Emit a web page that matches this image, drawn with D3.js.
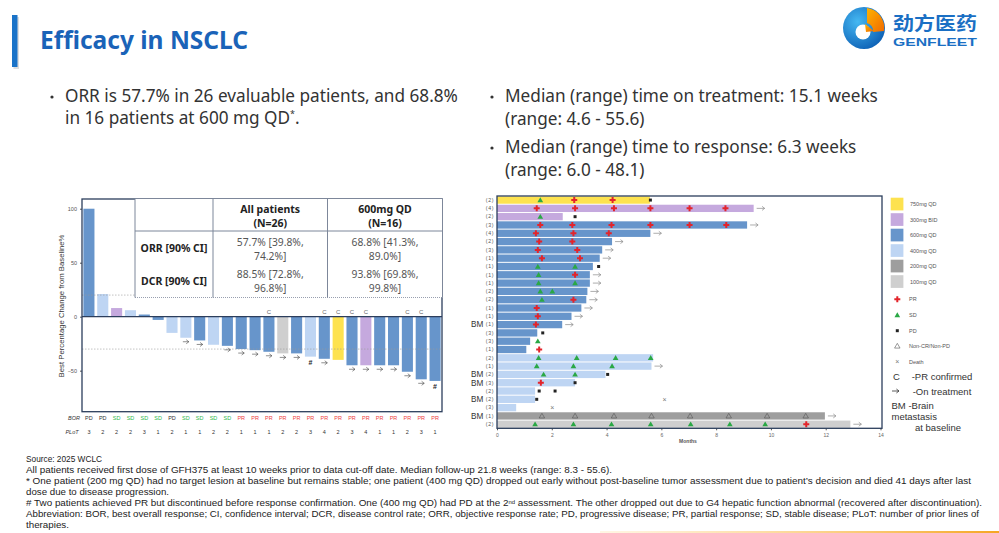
<!DOCTYPE html>
<html><head><meta charset="utf-8">
<script src="https://cdn.jsdelivr.net/npm/d3@7"></script>
<style>body{margin:0;background:#fff;} svg{display:block;}</style>
</head><body><svg id="c" width="999" height="533"></svg>
<script>
// ---------------- DATA ----------------
const doseKeys   = ["750mg QD","300mg BID","600mg QD","400mg QD","200mg QD","100mg QD"];
const doseColors = ["#fde24f","#c5a9de","#6795cb","#bed5f3","#9e9e9e","#cfcfcf"];

// Waterfall (best % change from baseline), one entry per evaluable patient
const wfValues = [100, 21, 8, 6, 2, -3, -15, -19.5, -22, -26, -27, -30, -31, -32.5, -34, -34, -37, -39, -40, -45, -45, -45, -45, -51, -58, -59.5];
const wfDose   = ["600mg QD","400mg QD","300mg BID","400mg QD","600mg QD","600mg QD","400mg QD","400mg QD","600mg QD","400mg QD","600mg QD","600mg QD","600mg QD","600mg QD","100mg QD","600mg QD","400mg QD","600mg QD","750mg QD","600mg QD","300mg BID","600mg QD","600mg QD","600mg QD","600mg QD","600mg QD"];
const wfBOR    = ["PD","PD","SD","SD","SD","SD","PD","SD","SD","SD","SD","PR","PR","PR","PR","PR","PR","PR","PR","PR","PR","PR","PR","PR","PR","PR"];
const wfPLoT   = [3,2,2,2,3,1,2,1,1,2,2,1,1,1,2,2,3,4,2,3,4,1,1,2,3,1];
const wfConfirmed   = [0,0,0,0,0,0,0,0,0,0,0,0,0,1,0,0,0,1,1,1,1,0,0,1,1,0];
const wfOnTreatment = [0,0,0,0,0,0,0,1,1,0,1,1,1,1,1,1,0,1,0,1,1,1,1,1,1,0];
const wfUnconfirmed = [0,0,0,0,0,0,0,0,0,0,0,0,0,0,0,0,1,0,0,0,0,0,0,0,0,1];
const wfTicks = [100, 50, 0, -50];
const wfRefLines = [20, -30];

// Table
const tblCols = ["All patients\n(N=26)", "600mg QD\n(N=16)"];
const tblRows = ["ORR [90% CI]", "DCR [90% CI]"];
const tblCells = [["57.7% [39.8%,\n74.2%]", "68.8% [41.3%,\n89.0%]"],
                  ["88.5% [72.8%,\n96.8%]", "93.8% [69.8%,\n99.8%]"]];

// Swimmer plot (months on treatment)
const swLines = ["(2)","(4)","(2)","(3)","(4)","(2)","(3)","(1)","(1)","(1)","(1)","(2)","(2)","(1)","(1)","(1)","(3)","(3)","(1)","(2)","(1)","(2)","(3)","(2)","(2)","(3)","(1)","(2)"];
const swBM     = [0,0,0,0,0,0,0,0,0,0,0,0,0,0,0,1,0,0,0,0,0,1,1,0,1,0,1,0];
const swDose   = ["750mg QD","300mg BID","300mg BID","600mg QD","600mg QD","600mg QD","600mg QD","600mg QD","600mg QD","600mg QD","600mg QD","600mg QD","600mg QD","600mg QD","600mg QD","600mg QD","600mg QD","600mg QD","600mg QD","400mg QD","400mg QD","400mg QD","400mg QD","400mg QD","400mg QD","400mg QD","200mg QD","100mg QD"];
const swEnd    = [5.58, 9.37, 2.4, 9.13, 5.6, 4.2, 3.84, 3.75, 3.5, 3.39, 3.39, 3.3, 3.26, 3.08, 2.72, 2.38, 1.47, 1.21, 1.07, 5.7, 5.64, 3.96, 2.85, 1.39, 1.39, 0.7, 11.97, 12.9];
const swOngoing= [0,1,0,1,1,1,1,1,0,1,1,1,1,1,1,1,0,0,0,0,1,0,0,0,0,0,1,1];
const prMarks = [[0,2.82],[0,4.22],[1,1.45],[1,2.85],[1,4.27],[1,5.6],[1,7.03],[1,8.34],[3,1.58],[3,2.75],[3,4.18],[3,5.6],[3,7.03],[3,8.37],[4,1.42],[4,2.79],[4,4.08],[5,1.54],[5,2.75],[6,1.49],[6,2.93],[7,1.64],[7,3.03],[9,2.85],[12,2.79],[13,1.45],[14,1.49],[15,1.42],[18,1.54],[22,1.6],[27,11.29]];
const sdMarks = [[0,1.58],[2,1.58],[8,1.49],[8,2.85],[9,1.52],[10,1.52],[10,2.85],[11,1.58],[11,2.02],[12,1.64],[17,1.49],[19,1.52],[19,2.91],[19,4.33],[19,5.61],[20,1.45],[20,2.79],[20,4.2],[21,1.7],[21,2.85],[27,1.39],[27,2.79],[27,4.18],[27,5.61],[27,7.07],[27,8.5],[27,9.79]];
const pdMarks = [[0,5.6],[2,2.85],[8,3.71],[16,1.67],[21,4.04],[22,2.85],[23,1.54],[23,2.12],[24,1.45]];
const ncMarks = [[26,1.64],[26,2.85],[26,4.27],[26,5.64],[26,7.05],[26,8.46],[26,9.86],[26,11.27]];
const deathMarks = [[24,6.12],[25,2.02]];
const swTicks = [0,2,4,6,8,10,12,14];

// ---------------- DRAW ----------------
const svg = d3.select("#c");
const FONT = "'Noto Sans', 'Open Sans', sans-serif";
const CH = "'Liberation Sans', Arial, sans-serif";
const color = d3.scaleOrdinal(doseKeys, doseColors);
function fit(sel, target){ const w = sel.node().getComputedTextLength(); const fs = parseFloat(sel.attr("font-size")); const n = fs*target/w; sel.attr("font-size", n); return n; }
function arrowPath(g, x, y, len, stroke, sw){
  g.append("path").attr("d",`M${x},${y} H${x+len} M${x+len-2.6},${y-2} L${x+len},${y} L${x+len-2.6},${y+2}`)
   .attr("fill","none").attr("stroke",stroke).attr("stroke-width",sw);
}

// header
svg.append("rect").attr("x",13.5).attr("y",17).attr("width",5.5).attr("height",52).attr("fill","#c8c8c8").attr("opacity",0.6);
svg.append("rect").attr("x",12).attr("y",15).attr("width",5.5).attr("height",52).attr("fill","#1a73c8");
const title = svg.append("text").attr("x",40).attr("y",49).attr("font-family",FONT).attr("font-weight","bold").attr("font-size",26).attr("fill","#1a63b8").text("Efficacy in NSCLC");
fit(title, 208);

// logo
const defs = svg.append("defs");
const rg = defs.append("radialGradient").attr("id","lg").attr("cx","35%").attr("cy","35%").attr("r","75%");
rg.append("stop").attr("offset","0%").attr("stop-color","#45b8f2");
rg.append("stop").attr("offset","100%").attr("stop-color","#0b5db3");
const og = defs.append("linearGradient").attr("id","og").attr("x1","0").attr("y1","0").attr("x2","1").attr("y2","1");
og.append("stop").attr("offset","0%").attr("stop-color","#ffb300");
og.append("stop").attr("offset","100%").attr("stop-color","#f06a00");
const logo = svg.append("g").attr("transform","translate(864,28)");
logo.append("circle").attr("r",21).attr("fill","url(#lg)");
logo.append("path").attr("d","M3,-20 A20,20 0 0 1 20,3 L9,4 A8,8 0 0 0 3,-5 Z").attr("fill","url(#og)");
logo.append("circle").attr("cx",-1).attr("cy",4).attr("r",7.5).attr("fill","#fff");
logo.append("path").attr("d","M1,-4 L10,3 L2,4 Z").attr("fill","url(#og)");
svg.append("text").attr("x",893).attr("y",30).attr("font-family","'Noto Sans CJK SC'").attr("font-weight","bold").attr("font-size",18)
  .attr("fill","#1a6fc4").attr("textLength",84).attr("lengthAdjust","spacingAndGlyphs").text("劲方医药");
svg.append("text").attr("x",893).attr("y",45.5).attr("font-family",CH).attr("font-weight","bold").attr("font-size",10)
  .attr("fill","#1a6fc4").attr("textLength",84).attr("lengthAdjust","spacingAndGlyphs").text("GENFLEET");

// bullets
const bulletFs = 17;
function bulletLine(x, y, parts){
  const t = svg.append("text").attr("x",x).attr("y",y).attr("font-family",FONT).attr("font-size",bulletFs).attr("fill","#333");
  parts.forEach(p=>{ const s=t.append("tspan").text(p.t); if(p.sup){s.attr("font-size",9).attr("dy",-7);} if(p.down){s.attr("dy",7);} });
  return t;
}
svg.append("circle").attr("cx",52).attr("cy",97).attr("r",1.6).attr("fill","#333");
const l1 = bulletLine(65,102,[{t:"ORR is 57.7% in 26 evaluable patients, and 68.8%"}]);
const bfs = fit(l1, 393);
bulletLine(65,124,[{t:"in 16 patients at 600 mg QD"},{t:"*",sup:true},{t:".",down:true}]).attr("font-size",bfs);
svg.append("circle").attr("cx",492).attr("cy",97).attr("r",1.6).attr("fill","#333");
const r1 = bulletLine(505,102,[{t:"Median (range) time on treatment: 15.1 weeks"}]).attr("font-size",bfs);
fit(r1, 373);
bulletLine(505,125,[{t:"(range: 4.6 - 55.6)"}]).attr("font-size",bfs);
svg.append("circle").attr("cx",492).attr("cy",148).attr("r",1.6).attr("fill","#333");
bulletLine(505,153,[{t:"Median (range) time to response: 6.3 weeks"}]).attr("font-size",bfs);
bulletLine(505,176,[{t:"(range: 6.0 - 48.1)"}]).attr("font-size",bfs);

// ---------------- Waterfall ----------------
const wf = svg.append("g");
const wfX = d3.scaleBand().domain(d3.range(wfValues.length)).range([82,442]).paddingInner(0.2).paddingOuter(0.1);
const wfY = d3.scaleLinear().domain([-88,109]).range([411.7,199]);
wf.selectAll("rect.bar").data(wfValues).join("rect").attr("class","bar")
  .attr("x",(d,i)=>wfX(i)).attr("width",wfX.bandwidth())
  .attr("y",d=>wfY(Math.max(0,d))).attr("height",d=>Math.abs(wfY(d)-wfY(0)))
  .attr("fill",(d,i)=>color(wfDose[i]));
wf.selectAll("line.ref").data(wfRefLines).join("line").attr("class","ref")
  .attr("x1",82).attr("x2",442).attr("y1",d=>wfY(d)).attr("y2",d=>wfY(d))
  .attr("stroke","#9a9a9a").attr("stroke-width",0.6).attr("stroke-dasharray","1.5,1.5");
wf.append("line").attr("x1",82).attr("x2",442).attr("y1",wfY(0)).attr("y2",wfY(0)).attr("stroke","#2c3e5c").attr("stroke-width",1.2);
// markers
const cx = i => wfX(i)+wfX.bandwidth()/2;
wfValues.forEach((v,i)=>{ if(wfOnTreatment[i]) arrowPath(wf, cx(i)-3, wfY(Math.min(0,v))+4, 6, "#444", 0.6); });
wf.selectAll("text.hash").data(wfValues.map((v,i)=>({v,i})).filter(d=>wfUnconfirmed[d.i])).join("text")
  .attr("x",d=>cx(d.i)).attr("y",d=>wfY(Math.min(0,d.v))+8).attr("text-anchor","middle")
  .attr("font-family",CH).attr("font-weight","bold").attr("font-size",7).attr("fill","#222").text("#");
wf.selectAll("text.conf").data(wfValues.map((v,i)=>i).filter(i=>wfConfirmed[i])).join("text")
  .attr("x",d=>cx(d)).attr("y",313.5).attr("text-anchor","middle")
  .attr("font-family",CH).attr("font-size",6).attr("fill","#666").text("C");
// axis
const yAx = wf.append("g").attr("transform","translate(82,0)").call(d3.axisLeft(wfY).tickValues(wfTicks).tickSize(2));
yAx.select(".domain").remove();
yAx.selectAll("text").attr("font-family",CH).attr("font-size",5.5).attr("fill","#555");
yAx.selectAll("line").attr("stroke","#555");
const yt = wf.append("text").attr("transform","translate(64,306) rotate(-90)").attr("text-anchor","middle")
  .attr("font-family",CH).attr("font-size",7.5).attr("fill","#333").text("Best Percentage Change from Baseline%");
fit(yt, 143);
// BOR / PLoT rows
const borColor = {PD:"#333", SD:"#2db84b", PR:"#ee4040"};
wf.append("text").attr("x",74).attr("y",420).attr("text-anchor","middle").attr("font-family",CH).attr("font-style","italic").attr("font-size",5.5).attr("fill","#333").text("BOR");
wf.append("text").attr("x",72).attr("y",434).attr("text-anchor","middle").attr("font-family",CH).attr("font-style","italic").attr("font-size",5.5).attr("fill","#333").text("PLoT");
wf.selectAll("text.bor").data(wfBOR).join("text").attr("class","bor").attr("x",(d,i)=>cx(i)).attr("y",420)
  .attr("text-anchor","middle").attr("font-family",CH).attr("font-size",5.5).attr("fill",d=>borColor[d]).text(d=>d);
wf.selectAll("text.plot").data(wfPLoT).join("text").attr("class","plot").attr("x",(d,i)=>cx(i)).attr("y",434)
  .attr("text-anchor","middle").attr("font-family",CH).attr("font-size",5.5).attr("fill","#333").text(d=>d);
// frame
wf.append("rect").attr("x",82).attr("y",199).attr("width",360).attr("height",212.7).attr("fill","none").attr("stroke","#2c3e5c").attr("stroke-width",1.3);

// ---------------- Table ----------------
const tb = svg.append("g");
const tX = [135, 213, 327.5, 442.5], tY = [198.5, 231, 264, 297.5];
tb.append("rect").attr("x",tX[0]).attr("y",tY[0]).attr("width",tX[3]-tX[0]).attr("height",tY[3]-tY[0]).attr("fill","#fff");
const tStroke = "#7d879a";
tb.append("line").attr("x1",tX[0]).attr("x2",tX[3]).attr("y1",tY[0]).attr("y2",tY[0]).attr("stroke",tStroke).attr("stroke-width",1);
tb.append("line").attr("x1",tX[0]).attr("x2",tX[3]).attr("y1",tY[1]).attr("y2",tY[1]).attr("stroke",tStroke).attr("stroke-width",1);
tb.append("line").attr("x1",tX[0]).attr("x2",tX[3]).attr("y1",tY[3]).attr("y2",tY[3]).attr("stroke",tStroke).attr("stroke-width",0.8).attr("stroke-dasharray","1,1");
tX.forEach(x=>tb.append("line").attr("x1",x).attr("x2",x).attr("y1",tY[0]).attr("y2",tY[3]).attr("stroke",tStroke).attr("stroke-width",1));
function multi(x, y, str, opts){
  const lines = str.split("\n");
  lines.forEach((s,k)=>tb.append("text").attr("x",x).attr("y",y+k*14).attr("text-anchor","middle").attr("font-family",FONT)
     .attr("font-size",opts.fs).attr("font-weight",opts.bold?"bold":"normal").attr("fill",opts.fill).text(s));
}
tblCols.forEach((c,j)=>multi((tX[j+1]+tX[j+2])/2, 212.5, c, {fs:10.5,bold:true,fill:"#222"}));
tblRows.forEach((r,i)=>multi((tX[0]+tX[1])/2, [251.5,285][i], r, {fs:10.5,bold:true,fill:"#222"}));
tblCells.forEach((row,i)=>row.forEach((c,j)=>multi((tX[j+1]+tX[j+2])/2, [245.5,277.5][i], c, {fs:10.3,bold:false,fill:"#555"})));

// ---------------- Swimmer ----------------
const sw = svg.append("g");
const sX = d3.scaleLinear().domain([0,14]).range([497,880.5]);
const sY = d3.scaleBand().domain(d3.range(swEnd.length)).range([196,428.3]).paddingInner(0.12).paddingOuter(0.05);
const rc = i => sY(i)+sY.bandwidth()/2;
sw.selectAll("rect.sb").data(swEnd).join("rect").attr("class","sb")
  .attr("x",sX(0)).attr("y",(d,i)=>sY(i)).attr("width",d=>sX(d)-sX(0)).attr("height",sY.bandwidth())
  .attr("fill",(d,i)=>color(swDose[i]));
swEnd.forEach((v,i)=>{ if(swOngoing[i]) arrowPath(sw, sX(v)+3, rc(i), 8, "#8a8a8a", 0.7); });
const sym = (type,size)=>d3.symbol().type(type).size(size)();
sw.selectAll("path.pr").data(prMarks).join("path").attr("transform",d=>`translate(${sX(d[1])},${rc(d[0])})`).attr("d",sym(d3.symbolCross,20)).attr("fill","#e3242b");
sw.selectAll("path.sd").data(sdMarks).join("path").attr("transform",d=>`translate(${sX(d[1])},${rc(d[0])+0.5})`).attr("d",sym(d3.symbolTriangle,14)).attr("fill","#2aa845");
sw.selectAll("path.pd").data(pdMarks).join("path").attr("transform",d=>`translate(${sX(d[1])},${rc(d[0])})`).attr("d",sym(d3.symbolSquare,9)).attr("fill","#222");
sw.selectAll("path.nc").data(ncMarks).join("path").attr("transform",d=>`translate(${sX(d[1])},${rc(d[0])+0.5})`).attr("d",sym(d3.symbolTriangle,13)).attr("fill","none").attr("stroke","#555").attr("stroke-width",0.6);
sw.selectAll("text.death").data(deathMarks).join("text").attr("x",d=>sX(d[1])).attr("y",d=>rc(d[0])+2.3).attr("text-anchor","middle").attr("font-family",CH).attr("font-size",7).attr("fill","#777").text("×");
sw.selectAll("text.lot").data(swLines).join("text").attr("x",494).attr("y",(d,i)=>rc(i)+1.8).attr("text-anchor","end")
  .attr("font-family",CH).attr("font-size",5.2).attr("fill","#555").attr("letter-spacing",0.6).text(d=>d);
sw.selectAll("text.bm").data(swLines.map((d,i)=>i).filter(i=>swBM[i])).join("text").attr("x",471).attr("y",i=>rc(i)+2.8)
  .attr("font-family",CH).attr("font-size",8.2).attr("fill","#333").text("BM");
const xAx = sw.append("g").attr("transform","translate(0,428.3)").call(d3.axisBottom(sX).tickValues(swTicks).tickSize(2));
xAx.select(".domain").remove();
xAx.selectAll("text").attr("font-family",CH).attr("font-size",5).attr("fill","#666");
xAx.selectAll("line").attr("stroke","#555");
sw.append("text").attr("x",688).attr("y",443).attr("text-anchor","middle").attr("font-family",CH).attr("font-weight","bold").attr("font-size",5).attr("fill","#555").text("Months");
sw.append("rect").attr("x",497).attr("y",196).attr("width",385).attr("height",232.3).attr("fill","none").attr("stroke","#2c3e5c").attr("stroke-width",1.3);

// legend
const lg = svg.append("g");
doseKeys.forEach((k,i)=>{
  const cy = 204 + i*15.5;
  lg.append("rect").attr("x",890.7).attr("y",cy-6.3).attr("width",12.7).attr("height",12.7).attr("fill",color(k));
  lg.append("text").attr("x",910).attr("y",cy+2).attr("font-family",CH).attr("font-size",5.5).attr("fill","#555").text(k);
});
const legMarks = [["PR",299.3],["SD",315],["PD",330.7],["Non-CR/Non-PD",346],["Death",361.7]];
legMarks.forEach(([k,y])=>{
  if(k==="PR") lg.append("path").attr("transform",`translate(897.3,${y})`).attr("d",sym(d3.symbolCross,20)).attr("fill","#e3242b");
  if(k==="SD") lg.append("path").attr("transform",`translate(897.3,${y+0.5})`).attr("d",sym(d3.symbolTriangle,14)).attr("fill","#2aa845");
  if(k==="PD") lg.append("path").attr("transform",`translate(897.3,${y})`).attr("d",sym(d3.symbolSquare,9)).attr("fill","#222");
  if(k==="Non-CR/Non-PD") lg.append("path").attr("transform",`translate(897.3,${y+0.5})`).attr("d",sym(d3.symbolTriangle,13)).attr("fill","none").attr("stroke","#555").attr("stroke-width",0.6);
  if(k==="Death") lg.append("text").attr("x",897.3).attr("y",y+2.3).attr("text-anchor","middle").attr("font-family",CH).attr("font-size",7).attr("fill","#777").text("×");
  lg.append("text").attr("x",909).attr("y",y+2).attr("font-family",CH).attr("font-size",5.5).attr("fill","#555").text(k);
});
const lfs = 9.5, LF = "'Liberation Sans', Arial, sans-serif";
lg.append("text").attr("x",893).attr("y",380).attr("font-family",LF).attr("font-size",lfs).attr("fill","#333").text("C");
lg.append("text").attr("x",911.7).attr("y",380).attr("font-family",LF).attr("font-size",lfs).attr("fill","#333").text("-PR confirmed");
arrowPath(lg, 892, 391, 7, "#333", 0.8);
lg.append("text").attr("x",912.7).attr("y",394.5).attr("font-family",LF).attr("font-size",lfs).attr("fill","#333").text("-On treatment");
lg.append("text").attr("x",891.5).attr("y",408.5).attr("font-family",LF).attr("font-size",lfs).attr("fill","#333").text("BM -Brain");
lg.append("text").attr("x",891.5).attr("y",419.5).attr("font-family",LF).attr("font-size",lfs).attr("fill","#333").text("metastasis");
lg.append("text").attr("x",915).attr("y",430.5).attr("font-family",LF).attr("font-size",lfs).attr("fill","#333").text("at  baseline");

// ---------------- Footnotes ----------------
const FN = "'Liberation Sans', Arial, sans-serif";
const fn = svg.append("g").attr("font-family",FN).attr("fill","#222");
const probe = fn.append("text").attr("font-size",10).text("* One patient (200 mg QD) had no target lesion at baseline but remains stable; one patient (400 mg QD) dropped out early without post-baseline tumor assessment due to patient's decision and died 41 days after last");
const ffs = 10*945/probe.node().getComputedTextLength();
probe.remove();
const notes = [
  {y:462, t:"Source: 2025 WCLC", w:76},
  {y:473, t:"All patients received first dose of GFH375 at least 10 weeks prior to data cut-off date. Median follow-up 21.8 weeks (range: 8.3 - 55.6).", w:586},
  {y:484, t:"* One patient (200 mg QD) had no target lesion at baseline but remains stable; one patient (400 mg QD) dropped out early without post-baseline tumor assessment due to patient’s decision and died 41 days after last", w:945},
  {y:495, t:"dose due to disease progression.", w:143},
  {y:506, sup:true, w:956},
  {y:517, t:"Abbreviation: BOR, best overall response; CI, confidence interval; DCR, disease control rate; ORR, objective response rate; PD, progressive disease; PR, partial response; SD, stable disease; PLoT: number of prior lines of", w:953},
  {y:528, t:"therapies.", w:43}
];
notes.forEach(n=>{
  const t = fn.append("text").attr("x",26).attr("y",n.y).attr("font-size",ffs);
  if(n.sup){
    t.append("tspan").text("# Two patients achieved PR but discontinued before response confirmation. One (400 mg QD) had PD at the 2");
    t.append("tspan").attr("font-size",ffs*0.6).attr("dy",-2.5).text("nd");
    t.append("tspan").attr("dy",2.5).text(" assessment. The other dropped out due to G4 hepatic function abnormal (recovered after discontinuation).");
  } else t.text(n.t);
  if(n.w) t.attr("textLength",n.w).attr("lengthAdjust","spacingAndGlyphs");
});
// bottom accent line
const bl = defs.append("linearGradient").attr("id","bl");
bl.append("stop").attr("offset","0%").attr("stop-color","#ffd27a").attr("stop-opacity",0.2);
bl.append("stop").attr("offset","100%").attr("stop-color","#f5a623");
svg.append("rect").attr("x",600).attr("y",531).attr("width",399).attr("height",2).attr("fill","url(#bl)");
</script></body></html>
